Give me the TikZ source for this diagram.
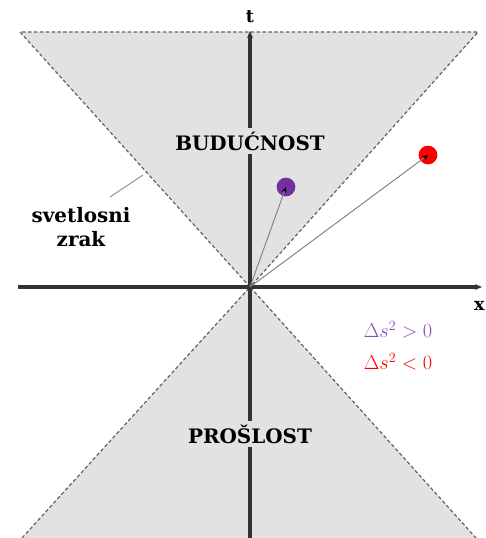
\documentclass[tikz,border=0pt]{standalone}
\usepackage{fontspec}
\setmainfont{DejaVu Serif}
\usetikzlibrary{arrows.meta}
\definecolor{conegray}{HTML}{E2E2E2}
\definecolor{dashgray}{HTML}{606060}
\definecolor{violetdot}{HTML}{7030A0}
\definecolor{reddot}{HTML}{FF0000}
\begin{document}
\begin{tikzpicture}[x=0.03cm,y=-0.03cm,
  cone/.style={fill=conegray,draw=dashgray,line width=1pt,dash pattern=on 3pt off 2pt},
  conedash/.style={draw=dashgray,line width=1pt,dash pattern=on 3pt off 2pt},
  axis/.style={line width=2.6pt,draw=black!80,-{Stealth[length=6pt,width=5pt]}},
  region/.style={fill=conegray,inner sep=3pt,font=\bfseries\fontsize{17}{19}\selectfont},
  ray/.style={draw=gray,line width=0.8pt,-{Stealth[length=5pt,width=4pt,black]}},
  dot/.style={circle,minimum size=16pt,inner sep=0pt},
  legend/.style={font=\fontsize{18}{20}\selectfont}]
\useasboundingbox (0,0) rectangle (486,538);
% cones
\coordinate (O) at (250,287);
\coordinate (TL) at (20,32);
\coordinate (TR) at (478,32);
\coordinate (BL) at (22,538);
\coordinate (BR) at (476,538);
\path[cone] (O) -- (TL) -- (TR) -- cycle;
\path[fill=conegray] (O) -- (BL) -- (BR) -- cycle;
\draw[conedash] (BL) -- (O) -- (BR);
% axes
\coordinate (xs) at (18,287);
\coordinate (xe) at (482,287);
\coordinate (ts) at (250,540);
\coordinate (te) at (250,31);
\draw[axis] (xs) -- (xe);
\draw[axis] (ts) -- (te);
\node[font=\bfseries\fontsize{15}{17}\selectfont] (tl) at (250,17) {t};
\node[font=\bfseries\fontsize{15}{17}\selectfont,anchor=east,inner sep=1pt] (xl) at (486,306) {x};
% region labels
\node[region] (fut) at (250,141) {BUDUĆNOST};
\node[region] (past) at (250,434) {PROŠLOST};
% dots
\node[dot,fill=violetdot] (p) at (286,187) {};
\node[dot,fill=reddot] (r) at (428,155) {};
\draw[ray] (O) -- (p.center);
\draw[ray] (O) -- (r.center);
% light ray label
\node[align=center,font=\bfseries\fontsize{17}{21}\selectfont] (lr) at (81,227) {svetlosni\\zrak};
\coordinate (lrA) at (110,197);
\coordinate (lrB) at (143,175);
\draw[gray,line width=0.6pt] (lrA) -- (lrB);
% legend
\node[legend,text=violetdot!85] (l1) at (398,330) {$\Delta s^2 > 0$};
\node[legend,text=reddot] (l2) at (398,362) {$\Delta s^2 < 0$};
\end{tikzpicture}
\end{document}
